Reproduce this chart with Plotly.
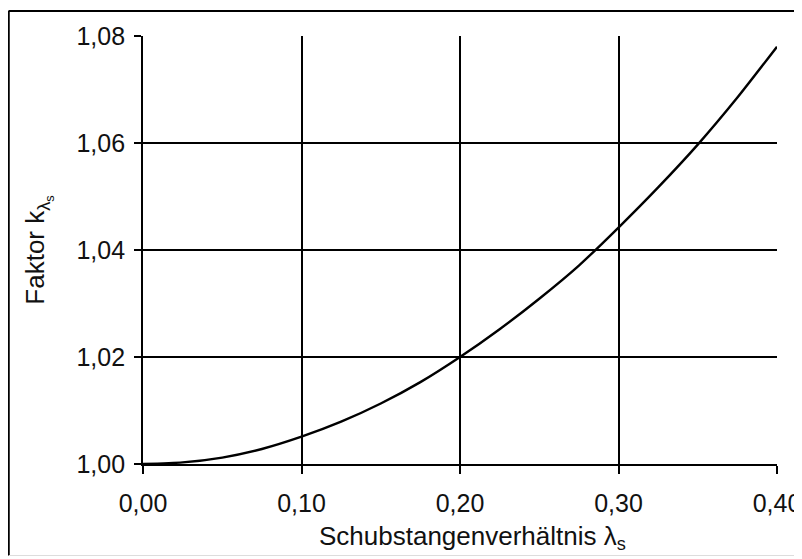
import plotly.graph_objects as go

# Data
lambda_s = [0.000, 0.025, 0.050, 0.075, 0.100, 0.125, 0.150, 0.175, 0.200,
            0.225, 0.250, 0.275, 0.300, 0.325, 0.350, 0.375, 0.400]
k_lambda = [1.0000, 1.0003, 1.0012, 1.0028, 1.0051, 1.0079, 1.0113, 1.0153, 1.0200,
            1.0252, 1.0309, 1.0371, 1.0442, 1.0517, 1.0597, 1.0685, 1.0780]

x_ticks = [0.0, 0.1, 0.2, 0.3, 0.4]
x_ticklabels = ["0,00", "0,10", "0,20", "0,30", "0,40"]
y_ticks = [1.00, 1.02, 1.04, 1.06, 1.08]
y_ticklabels = ["1,00", "1,02", "1,04", "1,06", "1,08"]

x_title = "Schubstangenverhältnis λ<sub>s</sub>"
y_title = "Faktor k<sub>λ<sub>s</sub></sub>"

FONT = "Liberation Sans, Arial, Helvetica, sans-serif"

fig = go.Figure()
fig.add_trace(go.Scatter(
    x=lambda_s, y=k_lambda, mode="lines",
    line=dict(color="black", width=2.4, shape="spline", smoothing=0.6),
    showlegend=False, hoverinfo="skip",
))

# page is offset by the default 8px body margin
OFF = 8
W, H = 802, 559
L, R, T, B = 143 - OFF, W - (777 - OFF), 36 - OFF, H - (464 - OFF)
pw, ph = W - L - R, H - T - B

def px_x(p):
    return (p - OFF - L) / pw

def px_y(p):
    return (H - B - (p - OFF)) / ph

fig.update_layout(
    width=W, height=H,
    margin=dict(l=L, r=R, t=T, b=B, autoexpand=False),
    paper_bgcolor="white", plot_bgcolor="white",
    font=dict(family=FONT, color="black", size=25),
    xaxis=dict(
        range=[0, 0.4], tickvals=x_ticks, ticktext=x_ticklabels,
        showgrid=True, gridcolor="black", gridwidth=1.8,
        showline=True, linecolor="black", linewidth=1.8,
        ticks="outside", ticklen=8, tickwidth=1.8, tickcolor="black",
        tickfont=dict(size=25, family=FONT, color="#111"),
        ticklabelstandoff=8, automargin=False,
        zeroline=False, mirror=False,
    ),
    yaxis=dict(
        range=[1.0, 1.08], tickvals=y_ticks, ticktext=y_ticklabels,
        showgrid=True, gridcolor="black", gridwidth=1.8,
        showline=True, linecolor="black", linewidth=1.8,
        ticks="outside", ticklen=7, tickwidth=1.8, tickcolor="black",
        tickfont=dict(size=25, family=FONT, color="#111"),
        ticklabelstandoff=4, automargin=False,
        zeroline=False,
        title=dict(text=y_title,
                   font=dict(size=26, family=FONT, color="#111"), standoff=24),
    ),
    annotations=[
        dict(text=x_title, xref="paper", yref="paper",
             x=px_x(472), y=px_y(537), xanchor="center", yanchor="middle",
             showarrow=False, font=dict(size=26, family=FONT, color="#111")),
    ],
    shapes=[
        dict(type="line", xref="paper", yref="paper",
             x0=px_x(8.5), x1=px_x(8.5), y0=px_y(11), y1=px_y(556),
             line=dict(color="black", width=2.5)),
        dict(type="line", xref="paper", yref="paper",
             x0=px_x(8.5), x1=px_x(810), y0=px_y(11), y1=px_y(11),
             line=dict(color="black", width=2)),
        dict(type="line", xref="paper", yref="paper",
             x0=px_x(8.5), x1=px_x(810), y0=px_y(555.5), y1=px_y(555.5),
             line=dict(color="#dddddd", width=1)),
    ],
)

fig.write_html("out.html")
